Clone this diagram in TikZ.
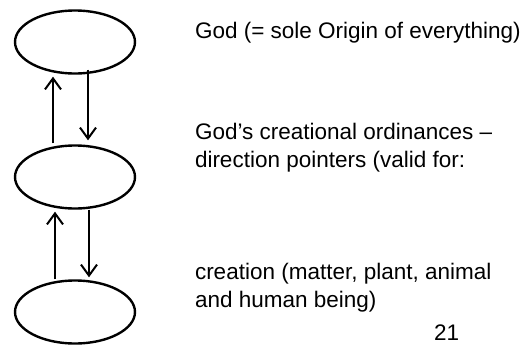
\documentclass[tikz,border=0pt]{standalone}
\usepackage{fontspec}
\setmainfont{Liberation Sans}
\usetikzlibrary{shapes.geometric,arrows.meta}

\begin{document}
\begin{tikzpicture}[
				x = 1pt, y = -1pt, % pixel-like units, y downwards
				node distance = 135pt, % distance between ellipse centres
				line width = 2pt, % line style
				font = \fontsize{22.5}{28}\selectfont
				]
				
				\tikzstyle{level}=[
				ellipse,
				draw = black,
				line width = 2.4pt,
				fill = white,
				minimum width = 120pt,
				minimum height = 63pt
				]
				\tikzstyle{caption}=[
				anchor = base west,
				align = left,
				inner sep = 0pt
				]
				\tikzstyle{flow}=[
				draw,
				line width = 2pt,
				-{Straight Barb[length=11pt,width=16pt,line width=2pt]} % open arrow head
				]
				
				\useasboundingbox (0,0) rectangle (522,346);
				
				\node[level] (god) at (75,42) {};
				\node[level] (ordinances) [below of=god] {};
				\node[level] (creation) [below of=ordinances] {};
				
				\node[caption] (godtext) at (194,38) {God (= sole Origin of everything)};
				\node[caption] (ordtext) at (194,167) {God's creational ordinances --\\direction pointers (valid for:};
				\node[caption] (cretext) at (194,307) {creation (matter, plant, animal\\and human being)};
				\node[caption] (pagenum) at (433,340) {21};
				
				\path 	
				([xshift=-22pt]ordinances.north) 	edge [flow, shorten <=1pt] ([xshift=-22pt,yshift=-2pt]god.south)
				([xshift=13pt,yshift=5pt]god.south) 	edge [flow, shorten >=4pt] ([xshift=13pt]ordinances.north)
				([xshift=-20pt]creation.north) 	edge [flow] ([xshift=-20pt,yshift=-2pt]ordinances.south)
				([xshift=14pt]ordinances.south) 	edge [flow, shorten >=2pt] ([xshift=14pt]creation.north)
				;
			\end{tikzpicture}
\end{document}
